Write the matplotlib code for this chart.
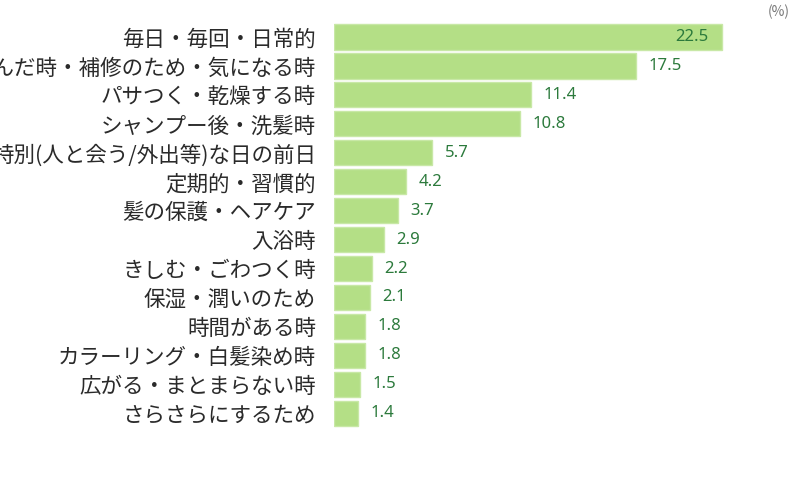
import matplotlib
matplotlib.use("Agg")
import matplotlib.pyplot as plt

plt.rcParams["font.family"] = ["Noto Sans CJK JP", "DejaVu Sans"]

categories = [
    "毎日・毎回・日常的",
    "傷んだ時・補修のため・気になる時",
    "パサつく・乾燥する時",
    "シャンプー後・洗髪時",
    "特別(人と会う/外出等)な日の前日",
    "定期的・習慣的",
    "髪の保護・ヘアケア",
    "入浴時",
    "きしむ・ごわつく時",
    "保湿・潤いのため",
    "時間がある時",
    "カラーリング・白髪染め時",
    "広がる・まとまらない時",
    "さらさらにするため",
]
values = [22.5, 17.5, 11.4, 10.8, 5.7, 4.2, 3.7, 2.9, 2.2, 2.1, 1.8, 1.8, 1.5, 1.4]

BAR_COLOR = "#b4df86"
EDGE_COLOR = "#c8e8a6"
VALUE_COLOR = "#2c7a3c"
LABEL_COLOR = "#2a2a2a"

fig = plt.figure(figsize=(8, 4.8), dpi=100)
ax = fig.add_axes([0.4175, 0.109, 0.539, 0.844])

y = list(range(len(categories)))
ax.barh(y, values, height=0.87, color=BAR_COLOR, edgecolor=EDGE_COLOR, linewidth=1)

ax.set_xlim(0, 25)
ax.set_ylim(len(categories) - 0.5, -0.5)

for i, v in enumerate(values):
    if i == 0:
        ax.annotate(f"{v}", (v, i), xytext=(-10, 0), textcoords="offset points",
                    ha="right", va="center", color=VALUE_COLOR, fontsize=12,
                    family=["Noto Sans", "DejaVu Sans"])
    else:
        ax.annotate(f"{v}", (v, i), xytext=(9, 0), textcoords="offset points",
                    ha="left", va="center", color=VALUE_COLOR, fontsize=12,
                    family=["Noto Sans", "DejaVu Sans"])

ax.set_yticks(y)
ax.set_yticklabels(categories, fontsize=15.5, color=LABEL_COLOR)
ax.tick_params(axis="y", length=0, pad=13)
ax.set_xticks([])
for s in ax.spines.values():
    s.set_visible(False)

fig.text(0.987, 0.975, "(%)", ha="right", va="center", fontsize=10, color="#777777")

fig.savefig("out.png", dpi=100)
